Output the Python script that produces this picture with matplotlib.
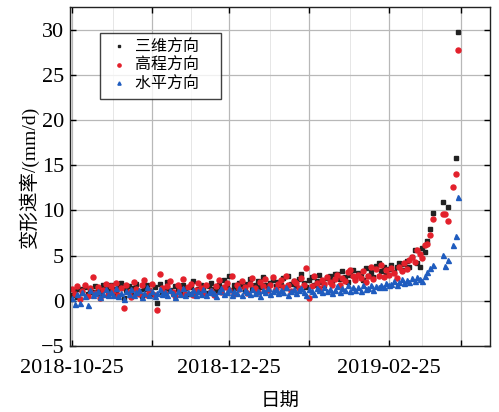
import numpy as np
import pandas as pd
import matplotlib
matplotlib.use("Agg")
import matplotlib.pyplot as plt

plt.rcParams['font.family'] = ['Liberation Serif', 'Noto Sans CJK SC']
plt.rcParams['axes.unicode_minus'] = True

nan = np.nan
dates = pd.date_range('2018-10-25', periods=151, freq='D')

# 三维方向 (3D)
rate_3d = [
    0.6, 1.1, 0.4, 1.3, 0.9, 1.5, 0.8, 1.2, 1.0, 1.6,
    1.2, 0.9, 1.7, 1.4, 1.1, 1.8, 1.3, 0.9, 1.5, 2.0,
    0.3, 1.2, 1.6, 1.0, 1.4, 1.9, 1.1, 0.5, 1.3, 1.7,
    1.2, 0.8, 1.5, -0.2, 1.9, 1.0, 1.4, 2.1, 1.2, 0.9,
    1.6, 1.3, 1.0, 1.8, 1.4, 0.8, 1.5, 2.2, 1.1, 1.3,
    1.7, 1.2, 0.9, 1.6, 2.0, 1.3, 1.1, 1.8, 1.4, 2.3,
    1.5, 2.8, 1.2, 1.7, 1.4, 2.0, 1.6, 1.1, 1.9, 2.4,
    1.3, 1.8, 2.2, 1.5, 2.6, 1.7, 1.2, 2.0, 2.3, 1.6,
    2.1, 1.8, 2.5, 1.4, 2.7, 1.9, 2.2, 1.6, 2.4, 3.0,
    2.0, 1.5, 2.3, 2.6, 1.8, 2.2, 2.9, 2.1, 1.7, 2.5,
    2.8, 2.2, 3.0, 3.0, 2.4, 3.3, 2.6, 2.1, 2.9, 3.4,
    2.5, 3.1, 2.7, 2.3, 3.6, 2.8, 3.2, 2.6, 3.9, 4.2,
    3.3, 3.7, 2.9, 3.5, 4.0, 3.2, 3.8, 4.2, 3.4, 4.1,
    4.4, 3.8, 4.9, 5.6, 4.2, 3.8, 5.9, 5.4,
    6.6, 8.0, 9.7, nan, nan, nan, 10.9, nan, 10.4, nan, nan, 15.8, 29.7,
]

# 高程方向 (vertical)
rate_up = [
    1.3, 0.8, 1.6, 0.2, 1.1, 1.8, 0.5, 1.4, 2.6, 0.9,
    1.5, 0.3, 1.2, 1.9, 0.7, 1.6, 1.1, 2.0, 0.6, 1.4,
    -0.8, 1.8, 1.0, 0.4, 2.1, 1.3, 0.8, 1.7, 2.3, 0.6,
    1.2, 1.9, 0.7, -1.0, 3.0, 1.4, 0.9, 1.6, 2.2, 1.0,
    0.5, 1.7, 1.3, 2.4, 0.8, 1.5, 1.9, 0.6, 1.2, 2.0,
    1.4, 0.9, 1.8, 2.8, 1.1, 0.7, 1.6, 2.3, 1.0, 1.5,
    2.0, 1.2, 2.7, 0.8, 1.7, 1.3, 2.2, 1.5, 0.9, 1.9,
    2.5, 1.4, 1.0, 2.1, 1.6, 2.4, 1.2, 1.8, 2.6, 1.3,
    1.9, 2.3, 1.5, 2.8, 1.7, 1.1, 2.2, 2.0, 1.4, 2.5,
    1.8, 3.6, 0.3, 1.6, 2.7, 2.0, 1.4, 2.3, 1.9, 2.6,
    2.1, 1.7, 2.4, 2.9, 1.8, 2.5, 2.2, 3.2, 3.4, 2.7,
    2.3, 2.9, 2.5, 3.3, 2.1, 2.8, 3.8, 2.4, 3.5, 2.7,
    4.0, 2.6, 3.4, 2.9, 3.6, 3.1, 2.5, 3.8, 3.3, 4.2,
    3.5, 4.5, 4.8, 4.3, 5.6, 5.2, 4.7, 6.2,
    6.3, 7.3, 9.0, nan, nan, nan, 9.6, 9.6, 8.8, nan, 12.6, 14.0, 27.7,
]

# 水平方向 (horizontal)
rate_h = [
    0.3, -0.4, 0.8, -0.2, 1.0, 0.5, -0.5, 1.2, 0.6, 0.9,
    1.1, 0.4, 0.8, 1.3, 0.6, 1.0, 0.7, 1.4, 0.5, 0.9,
    0.2, 1.1, 0.8, 1.3, 0.6, 1.0, 1.2, 0.4, 0.9, 1.5,
    0.7, 1.1, 0.5, 0.9, 1.3, 0.8, 1.0, 0.6, 1.2, 0.9,
    0.4, 1.1, 0.8, 1.4, 0.6, 1.0, 0.9, 1.2, 0.7, 1.1,
    0.8, 1.3, 0.6, 1.0, 1.2, 0.9, 0.5, 1.1, 1.4, 0.8,
    1.0, 1.3, 0.7, 1.1, 0.9, 1.4, 0.6, 1.2, 1.0, 0.8,
    1.3, 0.9, 1.1, 0.5, 1.2, 1.0, 1.4, 0.8, 1.1, 1.3,
    0.9, 1.2, 1.0, 1.5, 0.7, 1.1, 1.3, 0.9, 1.2, 1.4,
    1.0, 0.6, 1.3, 1.1, 0.8, 1.4, 1.2, 1.0, 1.5, 1.1,
    1.3, 0.9, 1.2, 1.6, 1.0, 1.4, 1.2, 1.7, 1.1, 1.5,
    1.2, 1.5, 1.1, 1.7, 1.3, 1.4, 1.8, 1.2, 1.6, 1.5,
    1.8, 1.5, 2.0, 1.7, 1.9, 2.2, 1.8, 2.1, 2.4, 2.0,
    2.3, 2.1, 2.5, 2.2, 2.6, 2.4, 2.2, 2.8,
    3.2, 3.6, 4.0, nan, nan, nan, 5.1, 3.9, 4.5, nan, 6.2, 7.2, 11.5,
]

tick_dates = pd.to_datetime(['2018-10-25', '2018-11-25', '2018-12-25',
                             '2019-01-25', '2019-02-25', '2019-03-25'])
tick_labels = ['2018-10-25', '', '2018-12-25', '', '2019-02-25', '']
minor_dates = pd.to_datetime(['2018-11-10', '2018-12-10', '2019-01-10',
                              '2019-02-10', '2019-03-10'])
y_ticks = [-5, 0, 5, 10, 15, 20, 25, 30]

fig = plt.figure(figsize=(4.99, 4.12), dpi=100)
ax = fig.add_axes([0.140, 0.160, 0.842, 0.823])

ax.plot(dates, rate_3d, ls='none', marker='s', ms=3.0, color='#222222', label='三维方向\u3000')
ax.plot(dates, rate_up, ls='none', marker='o', ms=3.6, color='#e3202b', label='高程方向\u3000')
ax.plot(dates, rate_h, ls='none', marker='^', ms=3.6, color='#1f5cbf', label='水平方向\u3000')

ax.set_xlim(pd.Timestamp('2018-10-24 03:00'), pd.Timestamp('2019-04-05 07:00'))
ax.set_ylim(-5, 32.5)
ax.set_yticks(y_ticks)
ax.set_xticks(tick_dates)
ax.set_xticklabels(tick_labels)
ax.set_xticks(minor_dates, minor=True)

ax.grid(True, which='major', color='#b8b8b8', lw=0.9)
ax.grid(True, which='minor', axis='x', color='#e6e6e6', lw=0.7)
ax.set_axisbelow(True)
ax.tick_params(which='major', direction='in', top=True, right=True, length=4,
               width=1, labelsize=16)
ax.tick_params(axis='x', which='major', pad=9)
ax.tick_params(axis='y', which='major', pad=4)
ax.tick_params(which='minor', length=0)
for s in ax.spines.values():
    s.set_linewidth(1.0)
    s.set_color('#222222')

ax.set_xlabel('日期', fontsize=14, labelpad=11)
ax.set_ylabel('变形速率/(mm/d)', fontsize=14, labelpad=1)

leg = ax.legend(loc='upper left', bbox_to_anchor=(0.071, 0.922), fontsize=11.5,
                frameon=True, fancybox=False, handlelength=1.6, handletextpad=0.2,
                borderpad=0.4, labelspacing=0.15, markerscale=0.65, borderaxespad=0)
leg.get_frame().set_edgecolor('#111111')
leg.get_frame().set_linewidth(1.0)

fig.savefig('out.png', dpi=100)
